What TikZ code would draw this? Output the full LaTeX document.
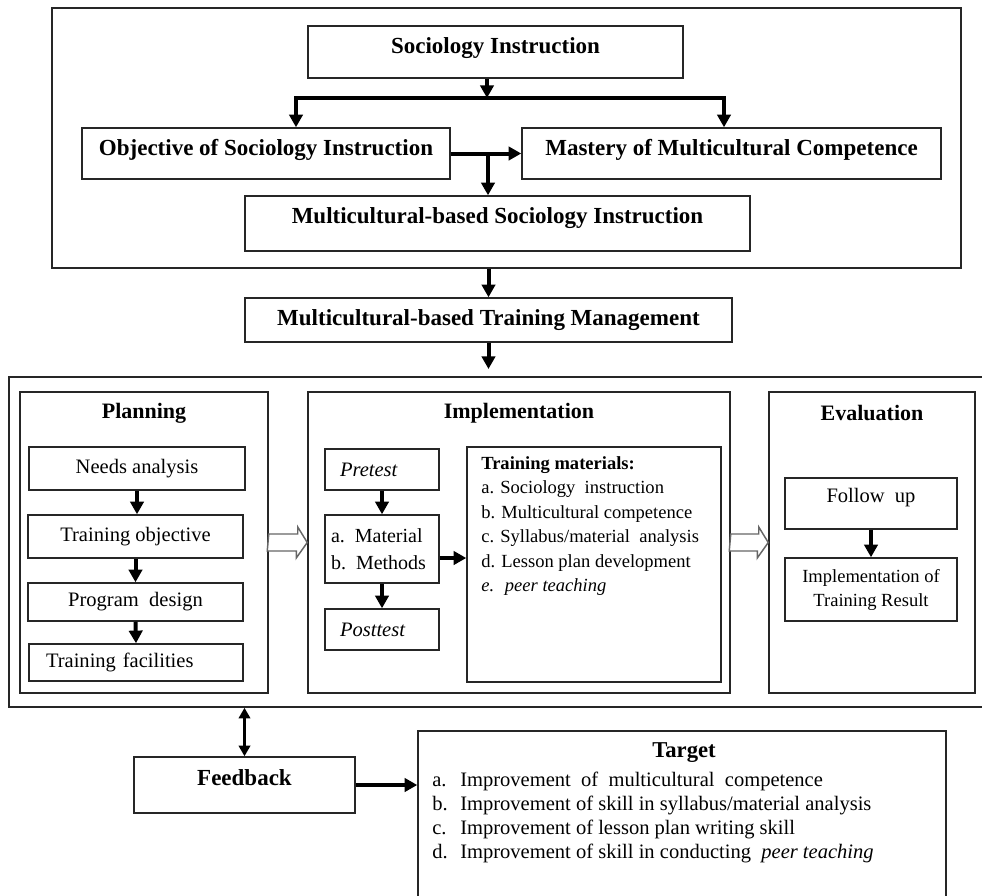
\documentclass[tikz,border=0pt]{standalone}
\usepackage{fontspec}
\setmainfont{Liberation Serif}
\usetikzlibrary{arrows.meta,calc}
\begin{document}
\begin{tikzpicture}[x=0.75pt,y=-0.75pt,
 box/.style={draw=black!85,line width=1.1pt,inner sep=0pt,align=center},
 wh/.style 2 args={minimum width=#1*0.75pt,minimum height=#2*0.75pt},
 fbig/.style={font=\fontsize{17.25}{20}\selectfont\bfseries},
 ftitle/.style={font=\fontsize{16.5}{19}\selectfont\bfseries},
 freg/.style={font=\fontsize{15.4}{20}\selectfont},
 fsmall/.style={font=\fontsize{13.9}{18}\selectfont},
 arr/.style={line width=3pt,-{Triangle[length=9.5pt,width=10pt]}},
 darr/.style={line width=2.6pt,{Triangle[length=8pt,width=8.5pt]}-{Triangle[length=8pt,width=8.5pt]}},
 hollow/.style={draw=black!60,line width=1.1pt,fill=white,line join=miter},
]
\useasboundingbox (0,0) rectangle (982,896);
\clip (0,0) rectangle (982,896);

% ---------- top section ----------
\node[box,wh={909}{260}] (topbox) at (506.5,138) {};
\node[box,wh={375}{52},fbig,text depth=9pt] (si) at (495.5,52) {Sociology Instruction};
\node[box,wh={368}{51},fbig,text depth=9pt] (obj) at (266,153.5) {Objective of Sociology Instruction};
\node[box,wh={419}{51},fbig,text depth=9pt] (mast) at (731.5,153.5) {Mastery of Multicultural Competence};
\node[box,wh={505}{55},fbig,text depth=12pt] (mbsi) at (497.5,223.5) {Multicultural-based Sociology Instruction};

\coordinate (bar) at (487,98);
\coordinate (bl) at (296,98);
\coordinate (br) at (724,98);
\coordinate (jn) at (488,153.5);
\draw[arr] (bar |- si.south) -- (bar);
\draw[arr,line join=miter] (br) -- (bl) -- (bl |- obj.north);
\draw[arr,line join=miter] (bl) -- (br) -- (br |- mast.north);
\draw[arr] (obj.east) -- (mast.west);
\draw[arr] (jn) -- (jn |- mbsi.north);

% ---------- training management ----------
\node[box,wh={487}{44},fbig] (tm) at (488.5,320) {Multicultural-based Training Management};
\draw[arr] (tm.north |- topbox.south) -- (tm.north);
\coordinate (tmend) at (488.5,369);
\draw[arr] (tm.south) -- (tmend);

% ---------- middle section ----------
\node[box,wh={986}{330}] (mid) at (502,542) {};

% Planning
\node[box,wh={248}{301}] (plan) at (144,542.5) {};
\node[ftitle] (plant) at (144,413) {Planning};
\node[box,wh={216}{43},freg] (need) at (137,468.5) {Needs analysis};
\node[box,wh={215}{43},freg] (tobj) at (135.5,536.5) {Training objective};
\node[box,wh={215}{38},freg] (prog) at (135.5,602) {Program \ design};
\node[box,wh={214}{37},freg,align=left,text width=135pt,inner xsep=12.75pt] (fac) at (136,662.5) {Training facilities};
\draw[arr] (need.south) -- (need.south |- tobj.north);
\draw[arr] (tobj.south) -- (prog.north);
\draw[arr] (prog.south) -- (fac.north);

% Implementation
\node[box,wh={422}{301}] (impl) at (519,542.5) {};
\node[ftitle] (implt) at (519,413) {Implementation};
\node[box,wh={114}{41},freg,align=left,text width=63pt,inner xsep=11.25pt] (pre) at (382,469.5) {\itshape Pretest};
\node[box,wh={114}{68},align=left,text width=76.5pt,inner xsep=4.5pt,font=\fontsize{15}{20}\selectfont] (mm) at (382,549) {a. Material\\b. Methods};
\node[box,wh={114}{41},freg,align=left,text width=63pt,inner xsep=11.25pt] (post) at (382,629.5) {\itshape Posttest};
\node[box,wh={254}{235}] (tmat) at (594,564.5) {};
\node[anchor=north west,inner sep=0pt,align=left,font=\fontsize{13.9}{18.4}\selectfont] (tmtext) at (481,456) {{\bfseries Training materials:}\\a. Sociology \ instruction\\b. Multicultural competence\\c. Syllabus/material \ analysis\\d. Lesson plan development\\\textit{e. \ peer teaching}};
\draw[arr] (pre.south) -- (mm.north);
\draw[arr] (mm.south) -- (post.north);
\coordinate (mme) at ($(mm.east)+(0,9)$);
\draw[arr] (mme) -- (mme -| tmat.west);

% Evaluation
\node[box,wh={206}{301}] (eval) at (872,542.5) {};
\node[ftitle] (evalt) at (872,413) {Evaluation};
\node[box,wh={172}{51},freg,text depth=12pt] (fol) at (871,503.5) {Follow \ up};
\node[box,wh={172}{63},fsmall] (itr) at (871,589.5) {Implementation of\\Training Result};
\draw[arr] (fol.south) -- (itr.north);

% hollow arrows
\draw[hollow] (plan.east) ++(0,-8.5) -- ++(29,0) -- ++(0,-7) -- (impl.west) -- ++(-11,15.5) -- ++(0,-7) -- ++(-29,0) -- cycle;
\draw[hollow] (impl.east) ++(0,-8.5) -- ++(28,0) -- ++(0,-7) -- (eval.west) -- ++(-11,15.5) -- ++(0,-7) -- ++(-28,0) -- cycle;

% ---------- bottom section ----------
\node[box,wh={221}{56},fbig,text depth=10.5pt] (fb) at (244.5,785) {Feedback};
\draw[darr] (fb.north |- mid.south) -- (fb.north);
\node[box,wh={528}{174}] (target) at (682,818) {};
\node[font=\fontsize{17}{20}\selectfont\bfseries] (targt) at (684,753) {Target};
\node[anchor=north west,inner sep=0pt,align=left,font=\fontsize{15.4}{18}\selectfont] (tlist) at (432,772) {\makebox[21pt][l]{a.}Improvement \ of \ multicultural \ competence\\\makebox[21pt][l]{b.}Improvement of skill in syllabus/material analysis\\\makebox[21pt][l]{c.}Improvement of lesson plan writing skill\\\makebox[21pt][l]{d.}Improvement of skill in conducting \ \textit{peer teaching}};
\draw[arr] (fb.east) -- (fb.east -| target.west);
\end{tikzpicture}
\end{document}
